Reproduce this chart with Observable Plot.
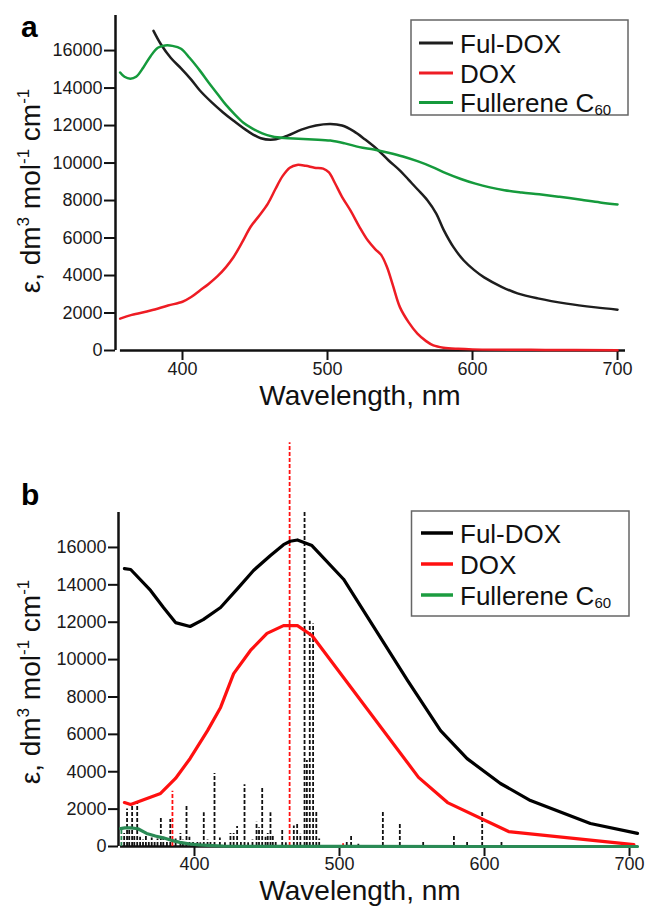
<!DOCTYPE html>
<html>
<head>
<meta charset="utf-8">
<script src="https://cdn.jsdelivr.net/npm/d3@7"></script>
<script src="https://cdn.jsdelivr.net/npm/@observablehq/plot@0.6"></script>
<style>
  html, body { margin: 0; padding: 0; background: #fff; }
  #wrap { position: relative; width: 646px; height: 908px; overflow: hidden; background: #fff; }
  #wrap svg { position: absolute; left: 0; }
</style>
</head>
<body>
<div id="wrap"></div>
<script>
const FONT = '"Liberation Sans", Arial, Helvetica, sans-serif';

// ---------- shared axis values ----------
const xTicks = [400, 500, 600, 700];
const yTicks = [0, 2000, 4000, 6000, 8000, 10000, 12000, 14000, 16000];
const yTop = 17870;
const xLabel = "Wavelength, nm";
const yLabelParts = [["ε, dm", false], ["3", true], [" mol", false], ["-1", true], [" cm", false], ["-1", true]];

// ---------- series ----------
const seriesNames = ["Ful-DOX", "DOX", "Fullerene C"];
const seriesSub = ["", "", "60"];
const colorsA = ["#1e1e1e", "#ee1c24", "#159a3c"];
const colorsB = ["#000000", "#ff1010", "#2a8a55"];
const legendColorsB = ["#000000", "#ff1010", "#1c9c40"];

// Panel a: [wavelength nm, epsilon]
const aFulDox = [[380,17050],[385,16350],[392,15600],[399,15050],[406,14450],[412,13870],[420,13250],[428,12700],[435,12270],[445,11700],[454,11320],[463,11250],[472,11450],[482,11780],[492,12000],[502,12080],[510,12000],[518,11700],[526,11250],[534,10750],[542,10150],[550,9600],[556,9100],[562,8600],[569,8000],[575,7300],[580,6450],[587,5500],[594,4800],[601,4300],[608,3900],[620,3400],[631,3050],[645,2780],[665,2500],[685,2300],[700,2180]];
const aDox = [[357,1700],[365,1900],[378,2130],[390,2400],[400,2600],[406,2850],[412,3200],[418,3550],[424,3950],[430,4450],[435,4960],[441,5750],[447,6600],[453,7200],[459,7850],[464,8600],[469,9300],[474,9750],[479,9900],[485,9850],[491,9750],[497,9700],[501,9500],[505,8950],[510,8200],[516,7450],[522,6600],[528,5850],[533,5400],[537,5100],[541,4450],[545,3500],[550,2300],[556,1500],[562,900],[568,500],[573,270],[580,150],[590,90],[600,60],[650,30],[700,20]];
const aC60 = [[357,14830],[360,14600],[364,14500],[368,14600],[373,15100],[378,15700],[383,16150],[388,16270],[393,16250],[399,16100],[405,15600],[412,14930],[418,14300],[424,13700],[430,13100],[436,12600],[442,12150],[448,11850],[455,11580],[462,11420],[470,11340],[480,11300],[490,11260],[502,11200],[512,11050],[522,10850],[532,10720],[542,10550],[552,10350],[562,10100],[572,9800],[582,9450],[592,9150],[602,8900],[612,8700],[622,8550],[634,8430],[646,8330],[660,8200],[675,8040],[688,7900],[700,7790]];

// Panel b: calculated spectra [nm, epsilon]
const bFulDox = [[351.7,14870],[356,14820],[369.7,13700],[378.6,12790],[386.9,11980],[397,11770],[406,12140],[418,12790],[429.7,13800],[440.7,14770],[452.4,15570],[461.4,16150],[466,16330],[471,16400],[481,16100],[502.8,14300],[547,8880],[569.7,6200],[588,4700],[611,3370],[631.7,2460],[673,1230],[705.5,700]];
const bDox = [[351.7,2350],[356,2250],[376.6,2840],[386.9,3640],[397,4710],[409,6200],[418,7440],[427,9250],[438.6,10490],[450,11400],[461.4,11820],[471,11820],[481,11290],[554.5,3700],[574.5,2350],[616.6,800],[703,100]];
const bC60 = [[349,960],[352,1000],[356,1000],[361,950],[367,700],[373,560],[379,450],[384,330],[390,220],[396,140],[403,90],[412,50],[420,25],[440,10],[500,4],[600,0],[705.5,0]];

// Panel b: oscillator sticks [nm, epsilon]
const bSticksFulDox = [[351.5,700],[353.5,2000],[355,900],[357,2300],[358.5,600],[360.5,2300],[362.5,500],[364.5,350],[366.5,550],[368.5,300],[370.5,450],[372.5,250],[374.5,400],[376.8,1500],[378.5,500],[381,300],[383.3,1450],[387,400],[390.3,700],[392,350],[394.5,2150],[396.5,500],[399,250],[402,300],[404,200],[406.4,1800],[409,350],[411,250],[413.8,3900],[417.5,450],[421,200],[424.8,700],[427,700],[429.4,1070],[432,250],[434.5,3300],[437,200],[440,350],[442.8,1300],[444.5,1000],[446.7,3100],[449,500],[450.5,700],[452.4,1800],[454,600],[456,300],[460.5,850],[463,200],[468.5,1100],[470.8,1230],[473,650],[475.9,17870],[477.5,4600],[479.5,12050],[481.8,11900],[484,1850],[486,400],[505,230],[508,590],[513,120],[529.9,1850],[541.6,1250],[557.7,230],[578.9,640],[588,230],[598.4,1840],[611.7,230]];
const bSticksDox = [[384.8,2950],[465.6,21600],[502.5,150]];
const bSticksC60 = [[349.6,900]];

const rows = arr => arr.map(([x, y]) => ({x, y}));

function makePanel(cfg) {
  const marks = [];
  // axis lines
  marks.push(Plot.ruleX([cfg.xDomain[0]], {y1: 0, y2: yTop, stroke: "#111", strokeWidth: 2.5}));
  marks.push(Plot.ruleY([0], {x1: cfg.xAxisFrom, x2: cfg.xDomain[1], stroke: "#111", strokeWidth: 2.5}));
  marks.push(Plot.axisY(yTicks, {tickSize: cfg.yTickSize, tickPadding: cfg.yTickPad, tickFormat: d => String(d), fontSize: 18, label: null, strokeWidth: 2, stroke: "#111", fill: "#1a1a1a"}));
  marks.push(Plot.axisX(xTicks, {tickSize: cfg.xTickSize, tickPadding: cfg.xTickPad, tickFormat: d => String(d), fontSize: 18, label: null, strokeWidth: 2, stroke: "#111", fill: "#1a1a1a"}));
  // sticks
  (cfg.sticks || []).forEach((arr, i) => {
    if (arr.length) marks.push(Plot.ruleX(arr.map(([x, h]) => ({x, h})), {x: "x", y1: 0, y2: "h", stroke: cfg.stickColors[i], strokeWidth: 1.8, strokeDasharray: "4,2"}));
  });
  // curves
  cfg.lines.forEach((arr, i) => {
    marks.push(Plot.line(rows(arr), {x: "x", y: "y", stroke: cfg.colors[i], strokeWidth: cfg.lineWidth, curve: cfg.curve, strokeLinejoin: "round", strokeLinecap: "round"}));
  });

  const svg = Plot.plot({
    width: 646, height: cfg.height,
    marginTop: cfg.mTop, marginBottom: cfg.mBottom, marginLeft: cfg.mLeft, marginRight: cfg.mRight,
    x: {domain: cfg.xDomain},
    y: {domain: [0, yTop]},
    style: {fontFamily: FONT, fontSize: "18px", color: "#1a1a1a", background: "transparent", overflow: "visible"},
    marks
  });
  svg.style.top = cfg.top + "px";
  const s = d3.select(svg);

  // panel letter
  s.append("text").attr("x", 21).attr("y", cfg.letterY).attr("text-anchor", "start").attr("font-family", FONT)
    .attr("font-size", 30).attr("font-weight", "bold").attr("fill", "#000").text(cfg.letter);

  // x label
  s.append("text").attr("x", 360).attr("y", cfg.xLabelY).attr("text-anchor", "middle")
    .attr("font-family", FONT).attr("font-size", 28).attr("fill", "#111").text(xLabel);

  // y label with superscripts
  const yl = s.append("text").attr("transform", `translate(40,${cfg.yLabelCY}) rotate(-90)`)
    .attr("text-anchor", "middle").attr("font-family", FONT).attr("font-size", 28).attr("fill", "#111");
  let up = false;
  yLabelParts.forEach(([t, sup]) => {
    const ts = yl.append("tspan").text(t);
    if (sup && !up) { ts.attr("dy", -11).attr("font-size", 17); up = true; }
    else if (!sup && up) { ts.attr("dy", 11); up = false; }
    else if (sup) ts.attr("font-size", 17);
  });

  // legend
  const L = cfg.legend;
  s.append("rect").attr("x", L.x).attr("y", L.y).attr("width", L.w).attr("height", L.h)
    .attr("fill", "#fff").attr("stroke", "#666").attr("stroke-width", 1.5);
  seriesNames.forEach((name, i) => {
    s.append("line").attr("x1", L.lx1).attr("x2", L.lx2).attr("y1", L.rows[i]).attr("y2", L.rows[i])
      .attr("stroke", L.colors[i]).attr("stroke-width", L.sw);
    const t = s.append("text").attr("x", L.tx).attr("y", L.rows[i] + 9.5).attr("text-anchor", "start")
      .attr("font-family", FONT).attr("font-size", 26).attr("fill", "#111");
    t.append("tspan").text(name);
    if (seriesSub[i]) t.append("tspan").attr("dy", 3).attr("font-size", 15).text(seriesSub[i]);
  });

  document.getElementById("wrap").appendChild(svg);
}

// Panel a
makePanel({
  top: 0, height: 430, mTop: 15, mBottom: 80, mLeft: 115, mRight: 21,
  xDomain: [353.8, 705.5], xAxisFrom: 357.2,
  yTickSize: 11, yTickPad: 2, xTickSize: 10, xTickPad: 2,
  lines: [aFulDox, aDox, aC60], colors: colorsA, lineWidth: 2.5, curve: "catmull-rom",
  letter: "a", letterY: 37, xLabelY: 405, yLabelCY: 191,
  legend: {x: 411, y: 20, w: 217, h: 95, lx1: 419, lx2: 453, tx: 460, rows: [43, 73, 102.5], colors: colorsA, sw: 3}
});

// Panel b
makePanel({
  top: 430, height: 478, mTop: 82, mBottom: 62, mLeft: 118, mRight: 9,
  xDomain: [347.6, 705.5], xAxisFrom: 349,
  yTickSize: 10, yTickPad: 2, xTickSize: 10, xTickPad: 1,
  sticks: [bSticksFulDox, bSticksDox, bSticksC60], stickColors: ["#111", "#ff1010", "#2a8a55"],
  lines: [bFulDox, bDox, bC60], colors: colorsB, lineWidth: 3.2, curve: "linear",
  letter: "b", letterY: 75, xLabelY: 470, yLabelCY: 252,
  legend: {x: 411.5, y: 81, w: 217.5, h: 105, lx1: 421, lx2: 453, tx: 460, rows: [103, 134, 165], colors: legendColorsB, sw: 3.5}
});
</script>
</body>
</html>
